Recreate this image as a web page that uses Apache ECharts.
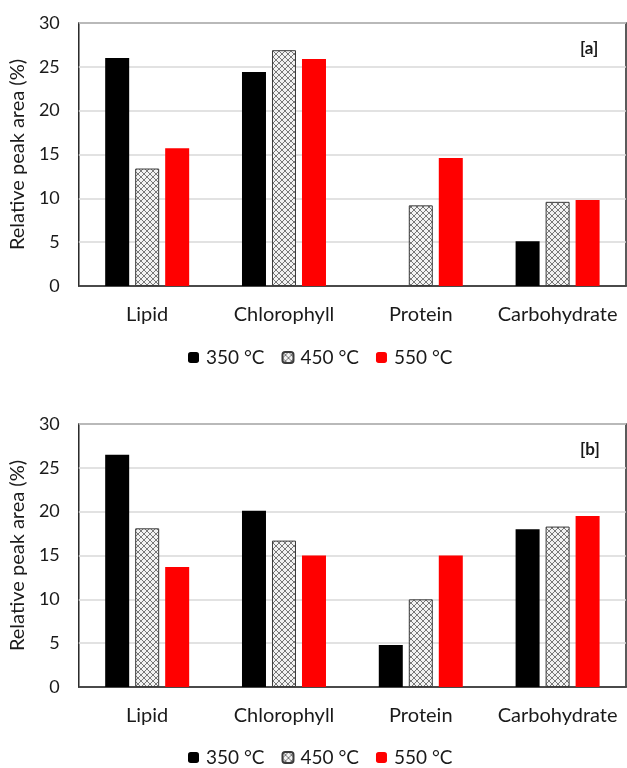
<!DOCTYPE html>
<html>
<head>
<meta charset="utf-8">
<script src="https://cdn.jsdelivr.net/npm/echarts@6/dist/echarts.min.js"></script>
<style>html,body{margin:0;padding:0;background:#fff;}#c{width:627px;height:768px;}</style>
</head>
<body>
<div id="c"></div>
<script>
const categories = ['Lipid', 'Chlorophyll', 'Protein', 'Carbohydrate'];
const seriesNames = ['350 °C', '450 °C', '550 °C'];
const yTicks = [0, 5, 10, 15, 20, 25, 30];
// Panel [a]
const a350 = [26.0, 24.4, 0, 5.1];
const a450 = [13.4, 26.9, 9.2, 9.6];
const a550 = [15.7, 25.9, 14.6, 9.8];
// Panel [b]
const b350 = [26.5, 20.1, 4.8, 18.0];
const b450 = [18.1, 16.7, 10.0, 18.3];
const b550 = [13.7, 15.0, 15.0, 19.5];

const FONT = 'Lato';
const TXT = '#1a1a1a';

function makePattern() {
  const c = document.createElement('canvas');
  c.width = 6; c.height = 6;
  const g = c.getContext('2d');
  g.fillStyle = '#f2f2f2';
  g.fillRect(0, 0, 6, 6);
  g.strokeStyle = '#6a6a6a';
  g.lineWidth = 0.9;
  g.beginPath();
  g.moveTo(0, 0); g.lineTo(6, 6);
  g.moveTo(6, 0); g.lineTo(0, 6);
  g.stroke();
  return c;
}
const pat = { image: makePattern(), repeat: 'repeat' };

const styles = [
  { color: '#000000', borderWidth: 0 },
  { color: pat, borderColor: '#3a3a3a', borderWidth: 1 },
  { color: '#ff0000', borderWidth: 0 }
];

const chart = echarts.init(document.getElementById('c'), null, { renderer: 'canvas' });

const grids = [
  { left: 77, top: 23, width: 549, height: 263, show: true, borderColor: '#262626', borderWidth: 1.5, backgroundColor: 'transparent' },
  { left: 77, top: 424, width: 549, height: 263, show: true, borderColor: '#262626', borderWidth: 1.5, backgroundColor: 'transparent' }
];

function xAxis(i) {
  return {
    type: 'category', gridIndex: i, data: categories,
    axisLine: { lineStyle: { color: '#262626', width: 1.5 } },
    axisTick: { show: false },
    axisLabel: { color: TXT, fontFamily: FONT, fontSize: 20, margin: 19, interval: 0, hideOverlap: false }
  };
}
function yAxis(i) {
  return {
    type: 'value', gridIndex: i, min: 0, max: 30, interval: 5,
    name: 'Relative peak area (%)', nameLocation: 'middle', nameGap: 46,
    nameTextStyle: { color: TXT, fontFamily: FONT, fontSize: 20 },
    axisLine: { show: false }, axisTick: { show: false },
    axisLabel: { color: TXT, fontFamily: FONT, fontSize: 18, margin: 19,
      formatter: v => yTicks.includes(v) ? String(v) : '' },
    splitLine: { lineStyle: { color: '#d9d9d9', width: 1.5 } }
  };
}

const dataA = [a350, a450, a550];
const dataB = [b350, b450, b550];
const series = [];
[dataA, dataB].forEach((d, gi) => {
  d.forEach((vals, si) => {
    series.push({
      name: seriesNames[si], type: 'bar', xAxisIndex: gi, yAxisIndex: gi,
      data: vals, barWidth: 24, barGap: '25%',
      itemStyle: styles[si], emphasis: { disabled: true }
    });
  });
});

function legend(top) {
  return {
    top: top, left: 183, data: seriesNames,
    itemWidth: 11, itemHeight: 11, itemGap: 17,
    textStyle: { color: TXT, fontFamily: FONT, fontSize: 19, padding: [0, 0, 0, 2] }
  };
}

chart.setOption({
  animation: false,
  backgroundColor: '#fff',
  grid: grids,
  xAxis: [xAxis(0), xAxis(1)],
  yAxis: [yAxis(0), yAxis(1)],
  legend: [legend(343), legend(743)],
  series: series,
  graphic: [
    { type: 'text', left: 580, top: 40, style: { text: '[a]', fontFamily: FONT, fontWeight: 'bold', fontSize: 17, fill: TXT } },
    { type: 'text', left: 580, top: 441, style: { text: '[b]', fontFamily: FONT, fontWeight: 'bold', fontSize: 17, fill: TXT } }
  ]
});
</script>
</body>
</html>
